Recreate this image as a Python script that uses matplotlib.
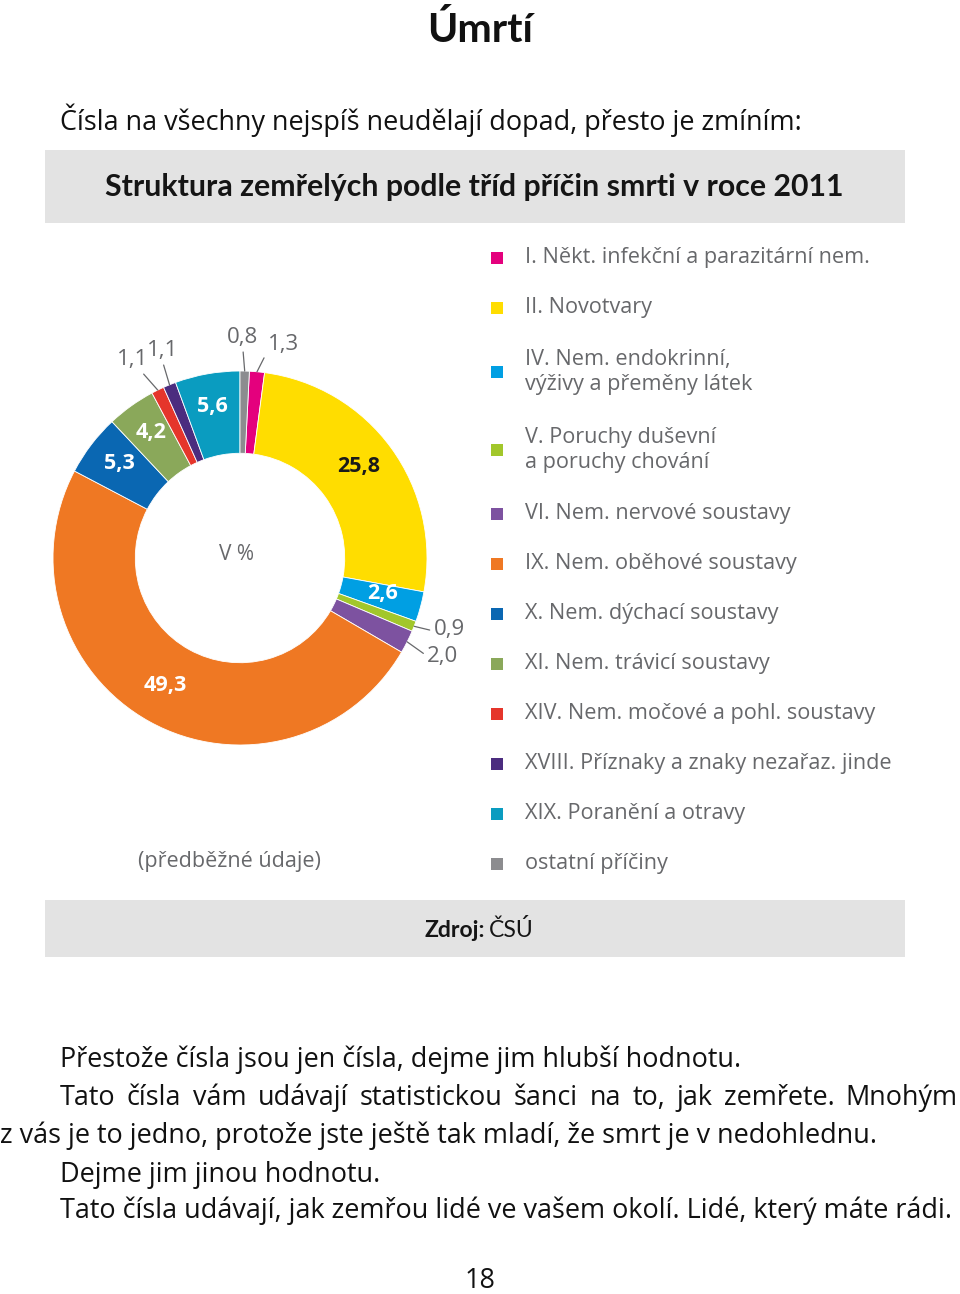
import matplotlib
matplotlib.use("Agg")
import matplotlib.pyplot as plt
from matplotlib.patches import Rectangle
import numpy as np

# data
categories = ["I. Někt. infekční a parazitární nem.",
              "II. Novotvary",
              "IV. Nem. endokrinní,\nvýživy a přeměny látek",
              "V. Poruchy duševní\na poruchy chování",
              "VI. Nem. nervové soustavy",
              "IX. Nem. oběhové soustavy",
              "X. Nem. dýchací soustavy",
              "XI. Nem. trávicí soustavy",
              "XIV. Nem. močové a pohl. soustavy",
              "XVIII. Příznaky a znaky nezařaz. jinde",
              "XIX. Poranění a otravy",
              "ostatní příčiny"]
shares = [1.3, 25.8, 2.6, 0.9, 2.0, 49.3, 5.3, 4.2, 1.1, 1.1, 5.6, 0.8]
colors = ["#e4007d", "#ffdd00", "#009fe3", "#a2c72b", "#7d52a0", "#ef7823",
          "#0a67b2", "#8aa85a", "#e5352b", "#4b2c7f", "#0a9cc0", "#8c8c8f"]

body_lines = ["Přestože čísla jsou jen čísla, dejme jim hlubší hodnotu.",
              "Tato čísla vám udávají statistickou šanci na to, jak zemřete. Mnohým",
              "z vás je to jedno, protože jste ještě tak mladí, že smrt je v nedohlednu.",
              "Dejme jim jinou hodnotu.",
              "Tato čísla udávají, jak zemřou lidé ve vašem okolí. Lidé, který máte rádi."]

W, H = 960, 1294
body_font = "Open Sans"
chart_font = "Open Sans"
head_font = "Lato"
grey_txt = "#67686b"

fig = plt.figure(figsize=(W / 100, H / 100), dpi=100)
page = fig.add_axes([0, 0, 1, 1])
page.set_xlim(0, W)
page.set_ylim(H, 0)
page.axis("off")
renderer = fig.canvas.get_renderer()

# body size: make last line reach the right margin like in the page
probe = page.text(60, 0, body_lines[4], fontsize=16, family=body_font)
body_size = 16 * (953 - 60) / probe.get_window_extent(renderer).width
probe.remove()

#title and intro
page.text(480, 42, "Úmrtí", ha="center", va="baseline", fontsize=29.5,
          fontweight="bold", family=head_font, color="#111111")
page.text(60, 130, "Čísla na všechny nejspíš neudělají dopad, přesto je zmíním:",
          ha="left", va="baseline", fontsize=body_size, family=body_font, color="#111111")

#banners
page.add_patch(Rectangle((45, 150), 860, 73, color="#e3e3e3", lw=0))
page.add_patch(Rectangle((45, 900), 860, 57, color="#e3e3e3", lw=0))
page.text(474, 196, "Struktura zemřelých podle tříd příčin smrti v roce 2011",
          ha="center", va="baseline", fontsize=21.8, fontweight="bold",
          family=head_font, color="#151515")
page.text(485, 937, "Zdroj:", ha="right", va="baseline", fontsize=16.5, fontweight="bold",
          family=head_font, color="#151515")
page.text(489, 937, "ČSÚ", ha="left", va="baseline", fontsize=16.5,
          family=head_font, color="#151515")
page.text(138, 867, "(předběžné údaje)", ha="left", va="baseline", fontsize=15.5,
          family=chart_font, color=grey_txt)

#legend
y = 258
for lab, col in zip(categories, colors):
    n = lab.count("\n") + 1
    yc = y + (n - 1) * 14
    page.add_patch(Rectangle((491, yc - 6), 12, 12, color=col, lw=0))
    page.text(525, yc, lab, ha="left", va="center", fontsize=15.6, family=chart_font,
              color=grey_txt, linespacing=1.2)
    y = y + (n - 1) * 28 + 50

#donut
cx, cy, R = 240, 558, 187
ax = fig.add_axes([(cx - R) / W, (H - cy - R) / H, 2 * R / W, 2 * R / H])
wedges, _ = ax.pie(shares, colors=colors, startangle=90 - shares[-1] * 3.6,
                   counterclock=False, radius=1,
                   wedgeprops=dict(width=0.44, edgecolor="white", linewidth=0.6))
ax.set_xlim(-1, 1)
ax.set_ylim(-1, 1)
ax.axis("off")
ax.text(-0.02, 0.02, "V %", ha="center", va="center", fontsize=15,
        family=chart_font, color=grey_txt)

# outside label placement (text pos in radius units, anchor on text)
outside = {0: ((0.23, 1.14), (0.0, 0.2)),
           3: ((1.12, -0.385), (0.0, 0.45)),
           4: ((1.085, -0.525), (0.0, 0.5)),
           8: ((-0.575, 1.06), (0.75, 0.0)),
           9: ((-0.415, 1.11), (0.5, 0.0)),
           11: ((0.015, 1.18), (0.5, 0.0))}

for i, (w, v) in enumerate(zip(wedges, shares)):
    mid = np.deg2rad((w.theta1 + w.theta2) / 2)
    lab = f"{v:.1f}".replace(".", ",")
    if v >= 2.5:
        r = 0.8
        ax.text(r * np.cos(mid) - 0.01, r * np.sin(mid) + 0.02, lab, ha="center",
                va="center", fontsize=15.5, fontweight="bold", family=chart_font,
                color="#1a1a1a" if i == 1 else "white")
    else:
        pos, rel = outside[i]
        ax.annotate(lab, xy=(np.cos(mid), np.sin(mid)), xytext=pos,
                    ha="center", va="center", fontsize=16, family=chart_font,
                    color=grey_txt, annotation_clip=False,
                    arrowprops=dict(arrowstyle="-", color=grey_txt, lw=0.9,
                                    shrinkA=1, shrinkB=0, relpos=rel))

#body text
base = [1067, 1105, 1143, 1182, 1218]
xs = [60, 60, 0, 60, 60]
for k, (line, yb, x0) in enumerate(zip(body_lines, base, xs)):
    if k == 1:
        # justified line
        words = line.split()
        ts = [page.text(0, yb, wd, ha="left", va="baseline", fontsize=body_size,
                        family=body_font, color="#111111") for wd in words]
        widths = [t.get_window_extent(renderer).width for t in ts]
        gap = (958 - x0 - sum(widths)) / (len(words) - 1)
        x = x0
        for t, wd in zip(ts, widths):
            t.set_x(x)
            x += wd + gap
    else:
        page.text(x0, yb, line, ha="left", va="baseline", fontsize=body_size,
                  family=body_font, color="#111111")

page.text(480, 1288, "18", ha="center", va="baseline", fontsize=body_size,
          family=body_font, color="#111111")

fig.savefig("out.png", dpi=100)
